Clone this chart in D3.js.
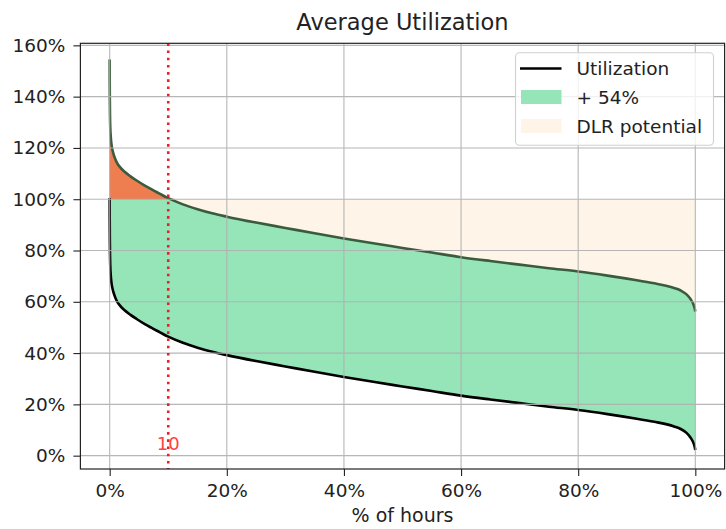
<!DOCTYPE html>
<html>
<head>
<meta charset="utf-8">
<script src="https://cdn.jsdelivr.net/npm/d3@7"></script>
<style>
  html, body { margin: 0; padding: 0; background: #ffffff; }
  svg { display: block; font-family: "DejaVu Sans", sans-serif; }
</style>
</head>
<body>
<svg id="chart" width="726" height="529"></svg>
<script>
// ---- data ----
const hoursPct = [0, 0.01, 0.03, 0.06, 0.1, 0.18, 0.3, 0.5, 0.8, 1.25, 1.8, 2.5, 3.5, 4.6, 6, 7.1, 8.5, 10, 12.5, 15, 17.5, 20, 25, 30, 35, 40, 45, 50, 55, 60, 65, 70, 75, 80, 85, 90, 93, 95, 96.5, 97.5, 98.5, 99.2, 99.6, 99.85, 100];
const utilization = [100.5, 92, 84, 78, 74, 70.5, 67.5, 65, 62.6, 60.2, 58.4, 56.8, 55.0, 53.3, 51.3, 49.9, 48.2, 46.4, 44.0, 42.1, 40.5, 39.2, 36.9, 34.8, 32.7, 30.7, 28.8, 27.0, 25.2, 23.4, 21.9, 20.5, 19.1, 17.8, 16.2, 14.4, 13.2, 12.3, 11.3, 10.4, 8.9, 7.0, 5.4, 3.8, 2.2];
const increase = 54;          // percentage points added (+ 54%)
const limit = 100;            // 100% rating
const markerX = 10;           // vertical marker at 10 % of hours
const markerLabel = "10";
const xTicks = [0, 20, 40, 60, 80, 100];
const yTicks = [0, 20, 40, 60, 80, 100, 120, 140, 160];
const legendLabels = ["Utilization", "+ 54%", "DLR potential"];
const titleText = "Average Utilization";
const xLabelText = "% of hours";

// ---- build ----
const data = hoursPct.map((x, i) => ({ x, u: utilization[i], up: utilization[i] + increase }));

const svg = d3.select("#chart");
const L = 80.4, R = 724.6, T = 43.3, B = 469;
const x = d3.scaleLinear().domain([-5, 105]).range([L, R]);
const y = d3.scaleLinear().domain([-5.2, 160.8]).range([B, T]);

const C_GREEN = "#96e5b8", C_ORANGE = "#ee7d50", C_BEIGE = "#fef5e8";
const C_UPPER = "#3b5b3e", C_RED = "#e8202c";
const curve = d3.curveMonotoneX;

svg.append("defs").append("clipPath").attr("id", "clip")
  .append("rect").attr("x", L).attr("y", T).attr("width", R - L).attr("height", B - T);
const plot = svg.append("g").attr("clip-path", "url(#clip)");

// green band
plot.append("path").datum(data)
  .attr("fill", C_GREEN)
  .attr("d", d3.area().curve(curve).x(d => x(d.x)).y0(d => y(d.u)).y1(d => y(d.up)));
// orange (above 100%)
plot.append("path").datum(data)
  .attr("fill", C_ORANGE)
  .attr("d", d3.area().curve(curve).x(d => x(d.x)).y0(y(limit)).y1(d => y(Math.max(d.up, limit))));
// DLR potential (below 100%)
plot.append("path").datum(data)
  .attr("fill", C_BEIGE)
  .attr("d", d3.area().curve(curve).x(d => x(d.x)).y0(d => y(Math.min(d.up, limit))).y1(y(limit)));

// grid
const grid = svg.append("g").attr("stroke", "#b0b0b0").attr("stroke-width", 1.1).attr("opacity", 0.9);
xTicks.forEach(t => grid.append("line").attr("x1", x(t)).attr("x2", x(t)).attr("y1", T).attr("y2", B));
yTicks.forEach(t => grid.append("line").attr("x1", L).attr("x2", R).attr("y1", y(t)).attr("y2", y(t)));

// lines
plot.append("path").datum(data)
  .attr("fill", "none").attr("stroke", C_UPPER).attr("stroke-width", 2.6)
  .attr("d", d3.line().curve(curve).x(d => x(d.x)).y(d => y(d.up)));
plot.append("path").datum(data)
  .attr("fill", "none").attr("stroke", "#000").attr("stroke-width", 2.6)
  .attr("d", d3.line().curve(curve).x(d => x(d.x)).y(d => y(d.u)));

// marker line + label
svg.append("line")
  .attr("x1", x(markerX)).attr("x2", x(markerX)).attr("y1", T).attr("y2", B)
  .attr("stroke", C_RED).attr("stroke-width", 2.6)
  .attr("stroke-dasharray", "2.6,4.6");
svg.append("text")
  .attr("x", x(markerX)).attr("y", 450)
  .attr("text-anchor", "middle").attr("font-size", 18)
  .attr("fill", "#ff2020").attr("opacity", 0.85)
  .text(markerLabel);

// axes
const xAxis = svg.append("g").attr("transform", `translate(0,${B})`)
  .call(d3.axisBottom(x).tickValues(xTicks).tickFormat(d => d + "%").tickSize(7).tickPadding(8));
const yAxis = svg.append("g").attr("transform", `translate(${L},0)`)
  .call(d3.axisLeft(y).tickValues(yTicks).tickFormat(d => d + "%").tickSize(7).tickPadding(8));
[xAxis, yAxis].forEach(a => {
  a.select(".domain").remove();
  a.selectAll("line").attr("stroke", "#222").attr("stroke-width", 1.1);
  a.selectAll("text").attr("font-size", 18.5).attr("fill", "#222").attr("font-family", "DejaVu Sans");
});

// frame
svg.append("rect").attr("x", L).attr("y", T).attr("width", R - L).attr("height", B - T)
  .attr("fill", "none").attr("stroke", "#222").attr("stroke-width", 1.2);

// title & label
svg.append("text").attr("x", (L + R) / 2).attr("y", 30).attr("text-anchor", "middle")
  .attr("font-size", 22.5).attr("fill", "#222").text(titleText);
svg.append("text").attr("x", (L + R) / 2).attr("y", 522).attr("text-anchor", "middle")
  .attr("font-size", 19).attr("fill", "#222").text(xLabelText);

// legend
const lg = svg.append("g");
lg.append("rect").attr("x", 515.5).attr("y", 52.7).attr("width", 198).attr("height", 92.5)
  .attr("rx", 4).attr("fill", "#fff").attr("fill-opacity", 0.8).attr("stroke", "#d0d0d0").attr("stroke-width", 1.1);
const ly = [68.5, 97, 126];
lg.append("line").attr("x1", 520).attr("x2", 561.5).attr("y1", ly[0]).attr("y2", ly[0])
  .attr("stroke", "#000").attr("stroke-width", 2.6);
lg.append("rect").attr("x", 521).attr("y", ly[1] - 7).attr("width", 40.5).attr("height", 14).attr("fill", C_GREEN);
lg.append("rect").attr("x", 521).attr("y", ly[2] - 7).attr("width", 40.5).attr("height", 14).attr("fill", C_BEIGE);
legendLabels.forEach((t, i) => {
  lg.append("text").attr("x", 576.5).attr("y", ly[i] + 6.5).attr("font-size", 18.5).attr("fill", "#222").text(t);
});
</script>
</body>
</html>
